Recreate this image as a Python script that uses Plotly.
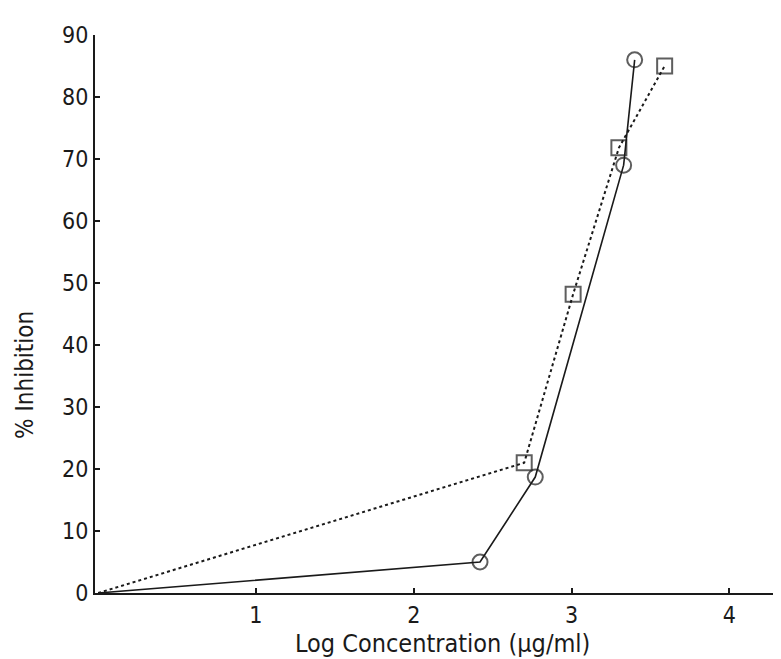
import plotly.graph_objects as go

# Data
circle_x = [0, 2.42, 2.77, 3.33, 3.40]
circle_y = [0, 5.0, 18.7, 69.0, 86.0]
square_x = [0, 2.70, 3.01, 3.30, 3.59]
square_y = [0, 21.0, 48.2, 71.8, 85.0]

x_ticks = [1, 2, 3, 4]
y_ticks = [0, 10, 20, 30, 40, 50, 60, 70, 80, 90]

FONT = "DejaVu Sans Condensed, DejaVu Sans, sans-serif"
INK = "#1a1a1a"

fig = go.Figure()
fig.add_trace(go.Scatter(
    x=circle_x, y=circle_y, mode="lines+markers",
    line=dict(color=INK, width=1.6),
    marker=dict(symbol="circle-open", size=[0] + [15] * (len(circle_x) - 1),
                color=INK, line=dict(width=2, color=INK)),
    showlegend=False, cliponaxis=False))
fig.add_trace(go.Scatter(
    x=square_x, y=square_y, mode="lines+markers",
    line=dict(color=INK, width=2, dash="3px,3px"),
    marker=dict(symbol="square-open", size=[0] + [15] * (len(square_x) - 1),
                color=INK, line=dict(width=2, color=INK)),
    showlegend=False, cliponaxis=False))

fig.update_layout(
    width=781, height=659,
    margin=dict(l=87, r=0, t=27, b=74),
    paper_bgcolor="white", plot_bgcolor="white",
    font=dict(family=FONT, color=INK),
    xaxis=dict(range=[-0.02, 4.378], tickvals=x_ticks, ticks="inside", ticklen=5,
               tickwidth=2, tickcolor=INK, showgrid=False, zeroline=False,
               showline=True, linecolor=INK, linewidth=2, automargin=False,
               tickfont=dict(size=23, family=FONT)),
    yaxis=dict(range=[0, 90], tickvals=y_ticks, ticks="inside", ticklen=5,
               tickwidth=2, tickcolor=INK, showgrid=False, zeroline=False,
               showline=True, linecolor=INK, linewidth=2, automargin=False,
               tickfont=dict(size=23, family=FONT)),
    annotations=[
        dict(text="% Inhibition", xref="paper", yref="paper",
             x=-0.1, y=0.39, xanchor="center", yanchor="middle",
             textangle=-90, showarrow=False,
             font=dict(size=24, family=FONT, color=INK)),
        dict(text="Log Concentration (µg/ml)", xref="paper", yref="paper",
             x=0.5, y=-0.091, xanchor="center", yanchor="middle",
             showarrow=False,
             font=dict(size=25, family=FONT, color=INK)),
    ],
)

fig.write_html("out.html")
